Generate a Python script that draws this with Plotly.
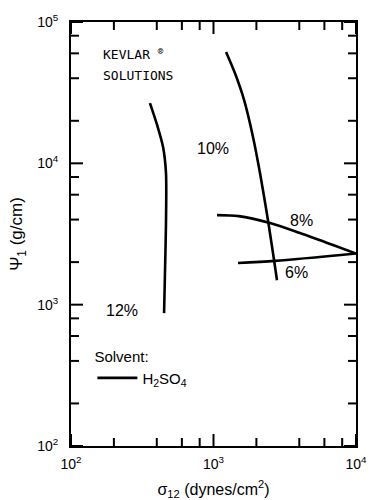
import plotly.graph_objects as go

# Shear stress sigma_12 (dynes/cm^2) and first normal-stress coefficient Psi_1 (g/cm)
conc_12_sigma = [358, 402, 443, 464, 464, 457, 450]
conc_12_psi = [26700, 18700, 13000, 8530, 3780, 1760, 871]

conc_10_sigma = [1225, 1420, 1640, 1890, 2120, 2410, 2615, 2790]
conc_10_psi = [61400, 43000, 28000, 15500, 8530, 3970, 2320, 1490]

conc_8_sigma = [1059, 1500, 2490, 4045, 6900, 10000]
conc_8_psi = [4300, 4230, 3780, 3210, 2640, 2300]

conc_6_sigma = [1486, 2705, 10000]
conc_6_psi = [1970, 2040, 2300]

curve_labels = ["12%", "10%", "8%", "6%"]

x_major = [100, 1000, 10000]
y_major = [100, 1000, 10000, 100000]
x_tick_text = ["10<sup>2</sup>", "10<sup>3</sup>", "10<sup>4</sup>"]
y_tick_text = ["10<sup>2</sup>", "10<sup>3</sup>", "10<sup>4</sup>", "10<sup>5</sup>"]
minor_mult = [2, 4, 6, 8]

FONT = "Liberation Sans, Arial, sans-serif"
WIDTH, HEIGHT = 380, 500
MARGIN = dict(l=71, r=24, t=22, b=54)
PLOT_W = WIDTH - MARGIN["l"] - MARGIN["r"]
PLOT_H = HEIGHT - MARGIN["t"] - MARGIN["b"]
X_RANGE = [2, 4]
Y_RANGE = [2, 5]
MAJOR_LEN, MINOR_LEN = 12, 8

fig = go.Figure()
series = [
    (conc_12_sigma, conc_12_psi),
    (conc_10_sigma, conc_10_psi),
    (conc_8_sigma, conc_8_psi),
    (conc_6_sigma, conc_6_psi),
]
for i, (xs, ys) in enumerate(series):
    fig.add_trace(go.Scatter(
        x=xs, y=ys, mode="lines",
        line=dict(color="black", width=2.6, shape="spline", smoothing=0.8),
        name="H<sub>2</sub>SO<sub>4</sub>",
        legendgroup="solvent",
        showlegend=(i == 0),
        hoverinfo="skip",
    ))

x_minor = [m * d for d in [100, 1000] for m in minor_mult]
y_minor = [m * d for d in [100, 1000, 10000] for m in minor_mult]

# inward tick marks on all four sides, drawn as short segments in data space;
# a tick length in pixels becomes a span in decades of the log axis
x_dec_per_px = (X_RANGE[1] - X_RANGE[0]) / PLOT_W
y_dec_per_px = (Y_RANGE[1] - Y_RANGE[0]) / PLOT_H
x_lo, x_hi = 10 ** X_RANGE[0], 10 ** X_RANGE[1]
y_lo, y_hi = 10 ** Y_RANGE[0], 10 ** Y_RANGE[1]

tick_x, tick_y = [], []
for vals, length in ((x_major, MAJOR_LEN), (x_minor, MINOR_LEN)):
    k = 10 ** (length * y_dec_per_px)
    for v in vals:
        tick_x += [v, v, None, v, v, None]
        tick_y += [y_lo, y_lo * k, None, y_hi, y_hi / k, None]
for vals, length in ((y_major, MAJOR_LEN), (y_minor, MINOR_LEN)):
    k = 10 ** (length * x_dec_per_px)
    for v in vals:
        tick_x += [x_lo, x_lo * k, None, x_hi, x_hi / k, None]
        tick_y += [v, v, None, v, v, None]

fig.add_trace(go.Scatter(
    x=tick_x, y=tick_y, mode="lines", connectgaps=False,
    line=dict(color="black", width=2), showlegend=False, hoverinfo="skip",
))

axis_common = dict(
    type="log", showgrid=False, zeroline=False, automargin=False,
    showline=True, linecolor="black", linewidth=2, mirror=True,
    ticks="", tickfont=dict(family=FONT, size=14, color="black"),
)

fig.update_layout(
    xaxis=dict(
        **axis_common,
        range=X_RANGE,
        tickmode="array", tickvals=x_major, ticktext=x_tick_text,
        ticklabelstandoff=4,
        title=dict(text="σ<sub>12</sub> (dynes/cm<sup>2</sup>)",
                   font=dict(family=FONT, size=16, color="black"), standoff=14),
    ),
    yaxis=dict(
        **axis_common,
        range=Y_RANGE,
        tickmode="array", tickvals=y_major, ticktext=y_tick_text,
        ticklabelstandoff=8,
        title=dict(text="Ψ<sub>1</sub> (g/cm)",
                   font=dict(family=FONT, size=17, color="black"), standoff=10),
    ),
)

label_font = dict(family=FONT, size=16, color="black")
label_pos = [(2.358, 2.962), (2.996, 4.108), (3.614, 3.599), (3.579, 3.231)]
for text, (lx, ly) in zip(curve_labels, label_pos):
    fig.add_annotation(x=lx, y=ly, text=text, showarrow=False, font=label_font,
                       xanchor="center", yanchor="middle")

mono = dict(family="DejaVu Sans Mono, monospace", size=13, color="black")
fig.add_annotation(x=2.21, y=4.774, text="KEVLAR <sup>®</sup>", showarrow=False,
                   font=mono, xanchor="left", yanchor="middle")
fig.add_annotation(x=2.21, y=4.618, text="SOLUTIONS", showarrow=False,
                   font=mono, xanchor="left", yanchor="middle")

fig.update_layout(
    width=WIDTH, height=HEIGHT,
    margin=MARGIN,
    paper_bgcolor="white", plot_bgcolor="white",
    showlegend=True,
    legend=dict(
        x=0.075, y=0.245, xanchor="left", yanchor="top",
        bgcolor="rgba(0,0,0,0)", borderwidth=0,
        title=dict(text="Solvent:", font=dict(family=FONT, size=15, color="black")),
        font=dict(family=FONT, size=15, color="black"),
        itemwidth=40,
    ),
)

fig.write_html("out.html")
